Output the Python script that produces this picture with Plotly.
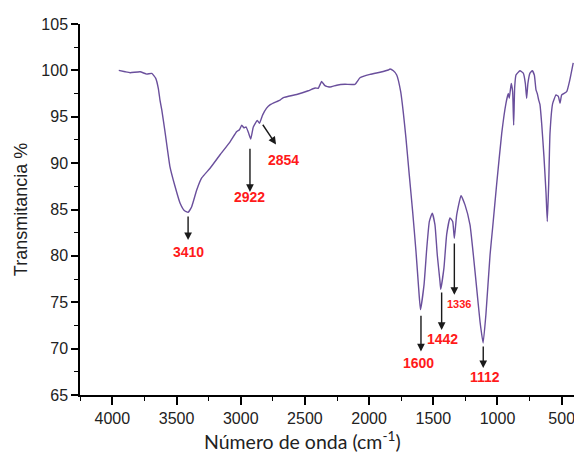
import plotly.graph_objects as go

# Spectrum (wavenumber cm-1, transmittance %)
wavenumber = [3950, 3900, 3861, 3784, 3732, 3693, 3662, 3642, 3629, 3615, 3590, 3551, 3512, 3473,
              3440, 3410, 3382, 3343, 3304, 3239, 3161, 3083, 3031, 3010, 2992, 2975, 2959, 2940,
              2922, 2902, 2871, 2854, 2829, 2800, 2770, 2694, 2668, 2564, 2474, 2421, 2396, 2370,
              2344, 2305, 2252, 2188, 2110, 2071, 1993, 1915, 1850, 1837, 1811, 1785, 1754, 1734,
              1713, 1687, 1661, 1635, 1614, 1600, 1572, 1551, 1531, 1508, 1487, 1469, 1448, 1442,
              1417, 1396, 1370, 1349, 1336, 1318, 1284, 1253, 1214, 1188, 1162, 1136, 1112, 1090,
              1058, 1038, 1006, 967, 934, 916, 908, 893, 882, 874, 866, 856, 825, 799, 783, 773,
              763, 747, 729, 713, 700, 690, 679, 669, 656, 638, 622, 612, 601, 591, 570, 544, 526,
              513, 500, 461, 436, 410]
transmittance = [100.0, 99.85, 99.75, 99.85, 99.6, 99.68, 99.14, 98.07, 96.8, 95.73, 93.4, 89.6, 87.5, 85.7,
                 84.9, 84.7, 85.3, 87.1, 88.4, 89.45, 90.9, 92.3, 93.4, 93.6, 94.1, 93.8, 93.9, 93.3,
                 92.6, 93.9, 94.6, 94.3, 95.2, 95.9, 96.3, 96.8, 97.06, 97.4, 97.8, 98.1, 98.07, 98.8,
                 98.35, 98.2, 98.4, 98.5, 98.5, 99.2, 99.57, 99.8, 100.04, 100.15, 99.95, 99.5, 97.7, 95.5,
                 92.7, 88.7, 84.8, 80.5, 76.5, 74.2, 76.9, 80.8, 83.7, 84.6, 83.35, 80.1, 77.25, 76.4,
                 78.7, 82.3, 84.1, 83.7, 81.9, 84.4, 86.5, 85.5, 83.35, 80.1, 76.5, 72.9, 70.6, 73.7,
                 80.1, 83.0, 87.8, 93.2, 96.45, 97.5, 97.0, 98.6, 97.7, 94.1, 98.2, 99.5, 99.96, 99.7, 98.6, 97.0,
                 98.6, 99.7, 99.96, 99.5, 97.9, 97.5, 96.8, 96.3, 94.3, 90.7, 86.8, 83.7, 87.8, 93.2, 96.45, 97.35, 97.2,
                 96.45, 97.35, 97.7, 99.0, 100.8]

# Peak labels
peak_labels = ["3410", "2922", "2854", "1600", "1442", "1336", "1112"]
# arrow tail (wavenumber, %), arrow head (wavenumber, %), text centre (wavenumber, %)
arrow_tail_w = [3410, 2928, 2836, 1596, 1435, 1336, 1111]
arrow_tail_t = [84.4, 91.7, 94.3, 73.7, 76.2, 81.5, 70.4]
arrow_head_w = [3410, 2928, 2725, 1596, 1435, 1336, 1111]
arrow_head_t = [81.7, 86.9, 92.0, 69.7, 72.0, 75.8, 67.9]
text_w = [3410, 2928, 2668, 1617, 1427, 1298, 1097]
text_t = [80.4, 86.4, 90.3, 68.5, 71.0, 74.8, 66.9]
text_size = [14, 14, 14, 14, 14, 11, 14]

x_ticks = [4000, 3500, 3000, 2500, 2000, 1500, 1000, 500]
y_ticks = [65, 70, 75, 80, 85, 90, 95, 100, 105]
x_title = "Número de onda (cm<sup>-1</sup>)"
y_title = "Transmitancia %"

fig = go.Figure()
fig.add_trace(go.Scatter(x=wavenumber, y=transmittance, mode="lines",
                         line=dict(color="#6a4f9c", width=1.4, shape="spline", smoothing=0.4),
                         showlegend=False, hoverinfo="skip"))

annotations = []
for i, lab in enumerate(peak_labels):
    annotations.append(dict(x=arrow_head_w[i], y=arrow_head_t[i], ax=arrow_tail_w[i], ay=arrow_tail_t[i],
                            xref="x", yref="y", axref="x", ayref="y", text="", showarrow=True,
                            arrowhead=2, arrowsize=1.1, arrowwidth=1.4, arrowcolor="#1a1a1a",
                            standoff=0, startstandoff=0))
    annotations.append(dict(x=text_w[i], y=text_t[i], xref="x", yref="y", text="<b>%s</b>" % lab,
                            showarrow=False, xanchor="center", yanchor="middle",
                            font=dict(family="Liberation Sans, Arial", size=text_size[i], color="#ff1a1a")))

# x-axis title (slightly left of the plot centre, as in the reference)
annotations.append(dict(x=0.45, y=-0.1225, xref="paper", yref="paper", text=x_title, showarrow=False,
                        xanchor="center", yanchor="middle",
                        font=dict(family="Lato", size=19.5, color="#222222")))

axis_common = dict(showline=True, linecolor="black", linewidth=1.5, ticks="outside",
                   tickwidth=1.5, tickcolor="black", showgrid=False, zeroline=False, automargin=False,
                   tickfont=dict(family="Liberation Sans, Arial", size=16, color="#222222"))

fig.update_layout(
    width=574, height=459,
    margin=dict(l=80, r=0, t=24, b=63.5),
    paper_bgcolor="white", plot_bgcolor="white",
    xaxis=dict(range=[4252, 404], tickvals=x_ticks, ticklen=8, ticklabeloverflow="allow",
               minor=dict(ticks="outside", ticklen=4, dtick=250, tick0=0, tickcolor="black", tickwidth=1.2),
               **axis_common),
    yaxis=dict(range=[65, 105], tickvals=y_ticks, ticklen=7,
               minor=dict(ticks="outside", ticklen=4, dtick=2.5, tick0=0, tickcolor="black", tickwidth=1.2),
               title=dict(text=y_title, standoff=9,
                          font=dict(family="Liberation Sans, Arial", size=18, color="#222222")),
               **axis_common),
    annotations=annotations,
)

fig.write_html("out.html", config={"displayModeBar": False},
               post_script="document.body.style.margin='0';document.body.style.overflow='hidden';")
